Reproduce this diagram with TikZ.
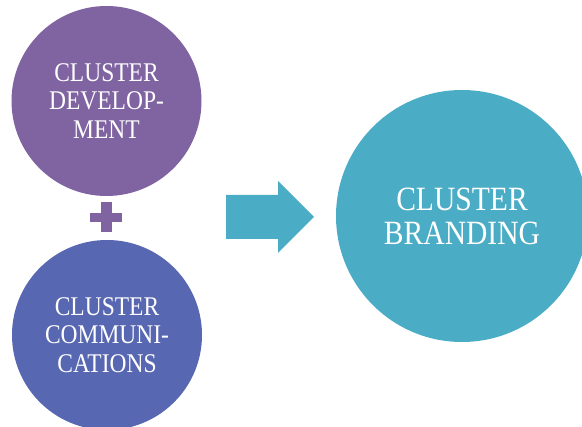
\documentclass[tikz,border=0pt]{standalone}
\usepackage{fontspec}
\setmainfont{Liberation Serif}[FakeStretch=0.87]
\definecolor{cpurple}{HTML}{8064A2}
\definecolor{cblue}{HTML}{5867B1}
\definecolor{cteal}{HTML}{4BACC6}
\begin{document}
\begin{tikzpicture}[x=1pt,y=-1pt,
  disc/.style={circle,inner sep=0pt,align=center,text=white},
  small/.style={disc,minimum size=190pt,font=\fontsize{27}{28.5}\selectfont},
  big/.style={disc,minimum size=252pt,font=\fontsize{34}{34}\selectfont}]
\useasboundingbox (0,0) rectangle (582,427);
\clip (0,0) rectangle (582,427);
\node[small,fill=cpurple] (dev) at (106.5,101) {CLUSTER\\DEVELOP-\\MENT};
\node[small,fill=cblue] (com) at (107,335) {CLUSTER\\COMMUNI-\\CATIONS};
\node[big,fill=cteal] (brand) at (462,216) {CLUSTER\\BRANDING};
% plus sign
\fill[cpurple] (90,213) rectangle (122,222);
\fill[cpurple] (100.5,202) rectangle (111.5,232);
% block arrow
\fill[cteal] (226,195) -- (278,195) -- (278,181) -- (314,217) -- (278,253) -- (278,239) -- (226,239) -- cycle;
\end{tikzpicture}
\end{document}
